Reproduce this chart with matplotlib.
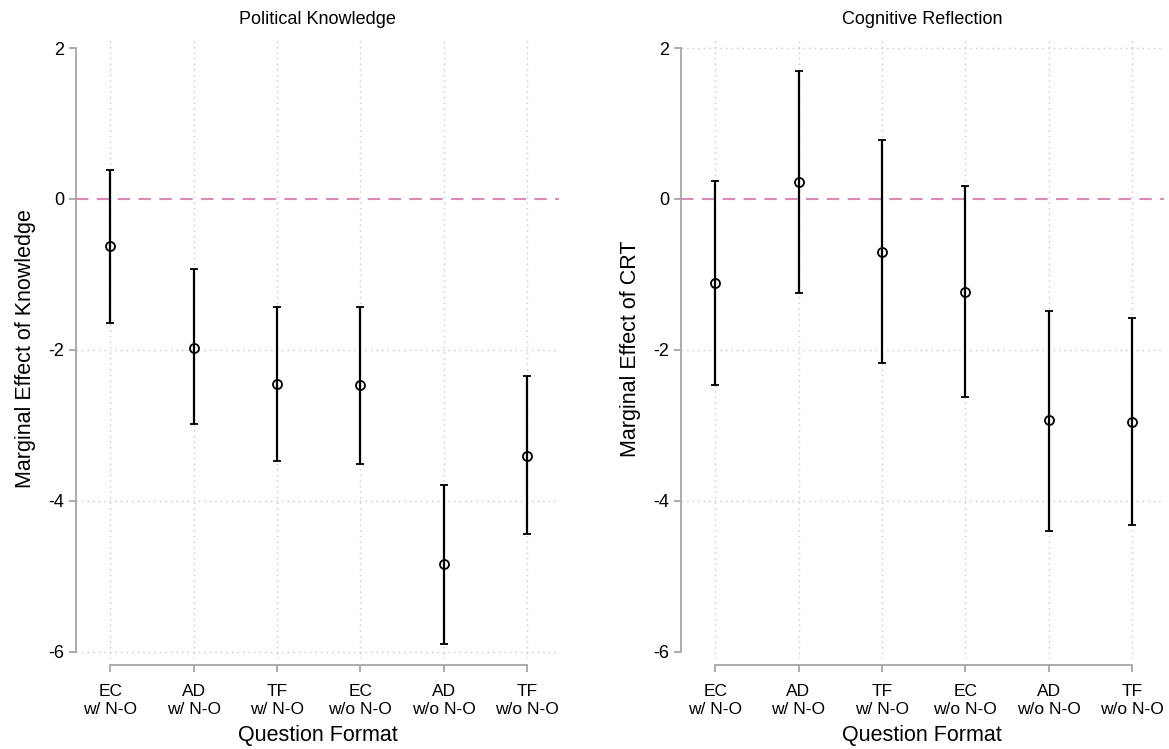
import numpy as np
import matplotlib
matplotlib.use("Agg")
import matplotlib.pyplot as plt

plt.rcParams['font.family'] = ['Liberation Sans', 'DejaVu Sans']

formats = ['EC\nw/ N-O', 'AD\nw/ N-O', 'TF\nw/ N-O',
           'EC\nw/o N-O', 'AD\nw/o N-O', 'TF\nw/o N-O']

# marginal effects and 95% CI bounds
know_est = [-0.62, -1.97, -2.45, -2.47, -4.84, -3.40]
know_lo = [-1.64, -2.98, -3.47, -3.51, -5.90, -4.44]
know_hi = [0.39, -0.93, -1.43, -1.43, -3.79, -2.35]

crt_est = [-1.11, 0.22, -0.70, -1.23, -2.93, -2.95]
crt_lo = [-2.46, -1.25, -2.17, -2.62, -4.40, -4.32]
crt_hi = [0.24, 1.69, 0.78, 0.17, -1.48, -1.58]

yticks = [-6, -4, -2, 0, 2]

fig = plt.figure(figsize=(11.69, 7.49), dpi=100)
ax1 = fig.add_axes([0.065, 0.1195, 0.413, 0.8295])
ax2 = fig.add_axes([0.5825, 0.1195, 0.413, 0.8295])

panels = [
    (ax1, 'Political Knowledge', 'Marginal Effect of Knowledge',
     know_est, know_lo, know_hi, [-6, -4, -2]),
    (ax2, 'Cognitive Reflection', 'Marginal Effect of CRT',
     crt_est, crt_lo, crt_hi, [-4, -2, 2]),
]

x = np.arange(1, len(formats) + 1)
gray = '#a6a6a6'

for ax, title, ylabel, est, lo, hi, hgrid in panels:
    est = np.array(est)
    err = np.vstack([est - np.array(lo), np.array(hi) - est])

    # dotted grid
    for xi in x:
        ax.axvline(xi, color='#c8c8c8', lw=1, ls=(0, (1, 3)), zorder=0)
    for yg in hgrid:
        ax.axhline(yg, color='#c8c8c8', lw=1, ls=(0, (1, 3)), zorder=0)

    ax.axhline(0, color='#d98cb5', lw=1.5, ls=(0, (6, 4)), zorder=1)

    ax.errorbar(x, est, yerr=err, fmt='o', color='black', ecolor='black',
                elinewidth=1.6, capsize=3, capthick=1.6,
                markersize=6.5, markerfacecolor='none', markeredgewidth=1.3,
                zorder=3)

    ax.set_xlim(0.59, 6.38)
    ax.set_ylim(-6.1, 2.13)
    ax.set_xticks(x)
    ax.set_xticklabels(formats, linespacing=0.95)
    ax.set_yticks(yticks)
    ax.set_yticklabels([str(t) for t in yticks])

    for s in ['top', 'right']:
        ax.spines[s].set_visible(False)
    ax.spines['left'].set_bounds(-6, 2)
    ax.spines['bottom'].set_bounds(1, 6)
    ax.spines['bottom'].set_position(('outward', 4))
    for s in ['left', 'bottom']:
        ax.spines[s].set_color(gray)
        ax.spines[s].set_linewidth(1.3)
    ax.tick_params(colors=gray, labelcolor='black', length=5, width=1.3)
    ax.tick_params(axis='x', pad=9, labelsize=12.5)
    ax.tick_params(axis='y', labelsize=13)

    ax.set_title(title, fontsize=13, pad=10)
    ax.set_ylabel(ylabel, fontsize=15.5, labelpad=9)
    ax.set_xlabel('Question Format', fontsize=15.5, labelpad=6)

fig.savefig('out.png', dpi=100)
